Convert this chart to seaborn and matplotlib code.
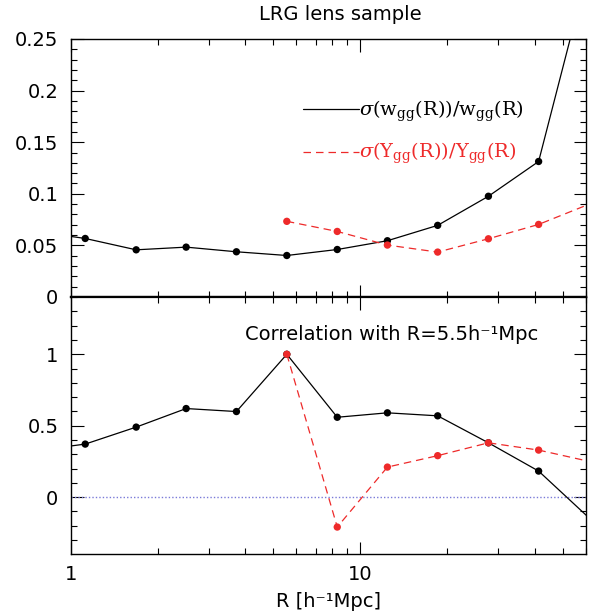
import numpy as np
import pandas as pd
import matplotlib
matplotlib.use("Agg")
import matplotlib.pyplot as plt
import seaborn as sns
from matplotlib.ticker import FixedLocator, FixedFormatter, LogLocator, NullFormatter, MultipleLocator
from matplotlib.lines import Line2D

# ---- data ----
R = [0.752, 1.12, 1.68, 2.50, 3.73, 5.57, 8.32, 12.4, 18.5, 27.7, 41.3, 61.7]
R_red = [5.57, 8.32, 12.4, 18.5, 27.7, 41.3, 61.7]

sig_w = [0.0636, 0.0567, 0.0457, 0.0483, 0.0438, 0.0402, 0.0460, 0.0545,
         0.0694, 0.0976, 0.1313, 0.321]
sig_ups = [0.0733, 0.0635, 0.0503, 0.0435, 0.0564, 0.0703, 0.0899]

corr_w = [0.325, 0.371, 0.49, 0.62, 0.599, 1.0, 0.559, 0.59, 0.569, 0.38,
          0.182, -0.146]
corr_ups = [1.0, -0.21, 0.21, 0.29, 0.38, 0.329, 0.25]

xticks = [1, 10]
xticklabels = ["1", "10"]
top_yticks = [0, 0.05, 0.1, 0.15, 0.2, 0.25]
top_yticklabels = ["0", "0.05", "0.1", "0.15", "0.2", "0.25"]
bot_yticks = [0, 0.5, 1]
bot_yticklabels = ["0", "0.5", "1"]

XMIN, XMAX = 1.0, 60.2
RED = "#ee2a2a"

sns.set_theme(style="ticks")
plt.rcParams["font.family"] = ["DejaVu Sans"]
plt.rcParams["mathtext.fontset"] = "dejavuserif"
plt.rcParams["text.color"] = "black"
plt.rcParams["axes.labelcolor"] = "black"
plt.rcParams["xtick.labelcolor"] = "black"
plt.rcParams["ytick.labelcolor"] = "black"

fig = plt.figure(figsize=(6.01, 6.16), dpi=100)
ax1 = fig.add_axes([0.1181, 0.5179, 0.8569, 0.4188])
ax2 = fig.add_axes([0.1181, 0.1006, 0.8569, 0.4172], sharex=ax1)

top = pd.DataFrame({"R": R, "v": sig_w})
top_r = pd.DataFrame({"R": R_red, "v": sig_ups})
bot = pd.DataFrame({"R": R, "v": corr_w})
bot_r = pd.DataFrame({"R": R_red, "v": corr_ups})

def draw(ax, df, color, dashed):
    ls = (0, (6, 4)) if dashed else "-"
    sns.lineplot(data=df, x="R", y="v", ax=ax, color=color, lw=0.9,
                 linestyle=ls, sort=False, estimator=None, zorder=2)
    inside = df[(df["R"] >= XMIN) & (df["R"] <= XMAX)]
    sns.scatterplot(data=inside, x="R", y="v", ax=ax, color=color, s=28,
                    edgecolor="none", linewidth=0, zorder=3)

ax2.axhline(0, color="#7a7ad8", ls=(0, (1, 1.5)), lw=1.0, zorder=1)

draw(ax1, top, "black", False)
draw(ax1, top_r, RED, True)
draw(ax2, bot, "black", False)
draw(ax2, bot_r, RED, True)

for ax in (ax1, ax2):
    ax.set_xscale("log")
    ax.set_xlim(XMIN, XMAX)
    ax.xaxis.set_major_locator(FixedLocator(xticks))
    ax.xaxis.set_minor_locator(LogLocator(base=10, subs=np.arange(2, 10)))
    ax.xaxis.set_minor_formatter(NullFormatter())
    ax.tick_params(which="both", direction="in", top=True, right=True,
                   width=0.8, color="black", labelcolor="black")
    ax.tick_params(which="major", length=9)
    ax.tick_params(which="minor", length=4.5)
    ax.tick_params(axis="y", which="major", labelsize=14, pad=9)
    ax.set_xlabel("")
    ax.set_ylabel("")
    for s in ax.spines.values():
        s.set_linewidth(1.0)
        s.set_color("black")

ax1.set_ylim(0, 0.25)
ax1.yaxis.set_major_locator(FixedLocator(top_yticks))
ax1.yaxis.set_major_formatter(FixedFormatter(top_yticklabels))
ax1.yaxis.set_minor_locator(MultipleLocator(0.01))
ax1.tick_params(axis="x", labelbottom=False)
ax1.spines["bottom"].set_linewidth(1.6)

ax2.set_ylim(-0.399, 1.401)
ax2.yaxis.set_major_locator(FixedLocator(bot_yticks))
ax2.yaxis.set_major_formatter(FixedFormatter(bot_yticklabels))
ax2.yaxis.set_minor_locator(MultipleLocator(0.1))
ax2.xaxis.set_major_formatter(FixedFormatter(xticklabels))
ax2.tick_params(axis="x", which="major", labelsize=14, pad=8)
ax2.spines["top"].set_linewidth(1.6)
ax2.set_xlabel("R [h⁻¹Mpc]", fontsize=14, labelpad=6, color="black")

handles = [Line2D([], [], color="black", lw=0.9),
           Line2D([], [], color=RED, lw=0.9, linestyle=(0, (6, 4)))]
labels = [r"$\sigma(\mathrm{w_{gg}(R))/w_{gg}(R)}$",
          r"$\sigma(\Upsilon_{\mathrm{gg}}\mathrm{(R))}/\Upsilon_{\mathrm{gg}}\mathrm{(R)}$"]
ax1.legend(handles, labels, loc="center left", bbox_to_anchor=(0.45, 0.638),
           frameon=False, fontsize=14, handlelength=2.9, handletextpad=0.0,
           borderpad=0, borderaxespad=0, labelspacing=0.9,
           labelcolor=["black", RED])

ax2.text(0.338, 0.856, "Correlation with R=5.5h⁻¹Mpc", transform=ax2.transAxes,
         ha="left", va="center", fontsize=14, color="black")

fig.text(340 / 601, 1 - 15 / 616, "LRG lens sample", ha="center", va="center",
         fontsize=14, color="black")

fig.savefig("out.png", dpi=100)
